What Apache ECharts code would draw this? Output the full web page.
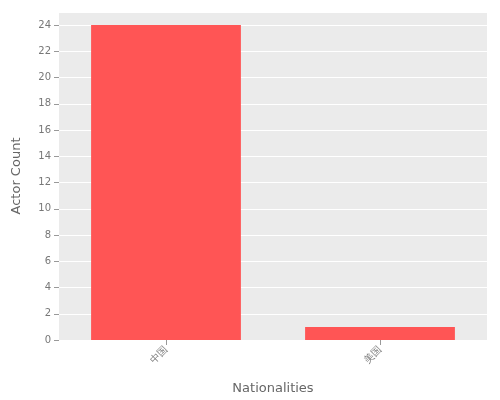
<!DOCTYPE html><html><head><meta charset="utf-8"><script src="https://cdn.jsdelivr.net/npm/echarts@6/dist/echarts.min.js"></script></head><body style="margin:0"><div id="c" style="width:500px;height:400px"></div><script>
const categories=["中国","美国"];
const counts=[24,1];
const chart=echarts.init(document.getElementById('c'));
chart.setOption({
 textStyle:{fontFamily:'DejaVu Sans'},
 grid:{left:59,right:13,top:12,bottom:60,show:true,backgroundColor:'#ebebeb',borderWidth:0},
 xAxis:{type:'category',data:categories,name:'Nationalities',nameLocation:'middle',nameGap:42,nameTextStyle:{color:'#666',fontSize:13},
  axisLine:{show:false},axisTick:{show:true,alignWithLabel:true,lineStyle:{color:'#999'}},axisLabel:{rotate:45,color:'#777',fontSize:10}},
 yAxis:{type:'value',min:0,max:25,interval:2,name:'Actor Count',nameLocation:'middle',nameGap:36,nameTextStyle:{color:'#666',fontSize:13},
  axisLabel:{color:'#777',fontSize:10,showMaxLabel:false},axisTick:{show:true,lineStyle:{color:'#999'}},axisLine:{show:false},
  splitLine:{lineStyle:{color:'#fff'}}},
 series:[{type:'bar',data:counts,barWidth:'70%',itemStyle:{color:'#ff5555'}}]
});
</script></body></html>
